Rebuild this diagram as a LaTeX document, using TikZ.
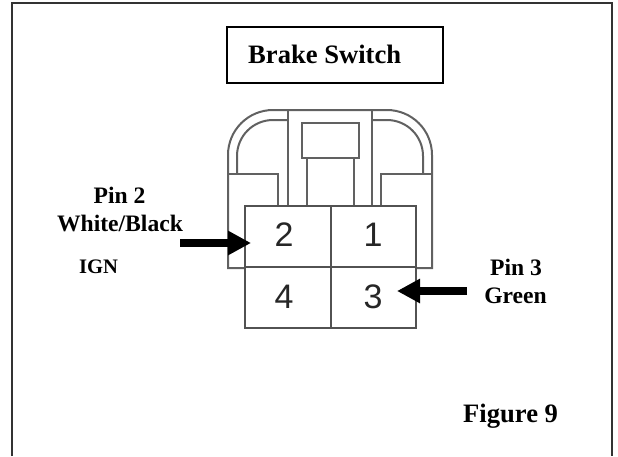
\documentclass[tikz,border=0pt]{standalone}
\usepackage{fontspec}
\setmainfont{Liberation Serif}
\newfontfamily\digitfont{Liberation Sans}
\usetikzlibrary{arrows.meta}

\begin{document}
\begin{tikzpicture}[
    x=1pt, y=-1pt,
    housing/.style={draw=black!62, line width=2pt},
    pinbox/.style={draw=black!68, line width=2pt},
    digit/.style={font=\fontsize{34}{34}\selectfont\digitfont, text=black!85, inner sep=0pt},
    callout/.style={font=\fontsize{23.6}{24}\selectfont\bfseries, inner sep=0pt, anchor=base},
    heading/.style={font=\fontsize{26.6}{27}\selectfont\bfseries, inner sep=0pt, anchor=base west},
    pointer/.style={line width=7.5pt, -{Triangle[length=23pt,width=23pt]}}
]
\useasboundingbox (0,0) rectangle (618,456);

% Outer frame, open at the bottom
\draw[line width=1.6pt, black!80] (12,456) -- (12,3) -- (612,3) -- (612,456);

% Title box
\node[draw, line width=1.5pt, minimum width=216pt, minimum height=56pt, inner sep=0pt] (titlebox) at (335,55) {};
\node[heading] (title) at (248,63) {Brake Switch};

% Connector housing
\draw[housing, rounded corners=45pt] (228,268) -- (228,110) -- (432,110) [sharp corners] -- (432,268) -- cycle;
\draw[housing, rounded corners=36pt] (237,174) -- (237,120) -- (288,120);
\draw[housing, rounded corners=36pt] (423,174) -- (423,120) -- (372,120);
\draw[housing] (288,110) -- (288,206);
\draw[housing] (372,110) -- (372,206);

% Side shelves and latch
\draw[housing] (228,174) -- (278,174) -- (278,206);
\draw[housing] (432,174) -- (381,174) -- (381,206);
\draw[housing] (302,123) rectangle (359,158);
\draw[housing] (307,158) -- (307,206);
\draw[housing] (354,158) -- (354,206);

% Pin cells
\draw[pinbox, fill=white] (245,206) rectangle (416,328);
\draw[pinbox] (245,267) -- (416,267);
\draw[pinbox] (331,206) -- (331,328);

% Pin numbers
\node[digit] (pin2) at (284,235) {2};
\node[digit] (pin1) at (373,235) {1};
\node[digit] (pin4) at (284,297) {4};
\node[digit] (pin3) at (373,297) {3};

% Labels
\node[callout] (pin2a) at (119.5,203) {Pin 2};
\node[callout] (pin2b) at (120,231) {White/Black};
\node[callout, font=\fontsize{20.6}{21}\selectfont\bfseries] (ign) at (98.5,273) {IGN};
\node[callout] (pin3a) at (516,275) {Pin 3};
\node[callout] (pin3b) at (515.5,303) {Green};
\node[heading] (figure) at (463,422) {Figure 9};

% Arrows to the pins
\coordinate (tailL) at (180,243);
\coordinate (tipL) at (251,243);
\coordinate (tailR) at (467,291);
\coordinate (tipR) at (397,291);
\draw[pointer] (tailL) -- (tipL);
\draw[pointer] (tailR) -- (tipR);

\end{tikzpicture}
\end{document}
